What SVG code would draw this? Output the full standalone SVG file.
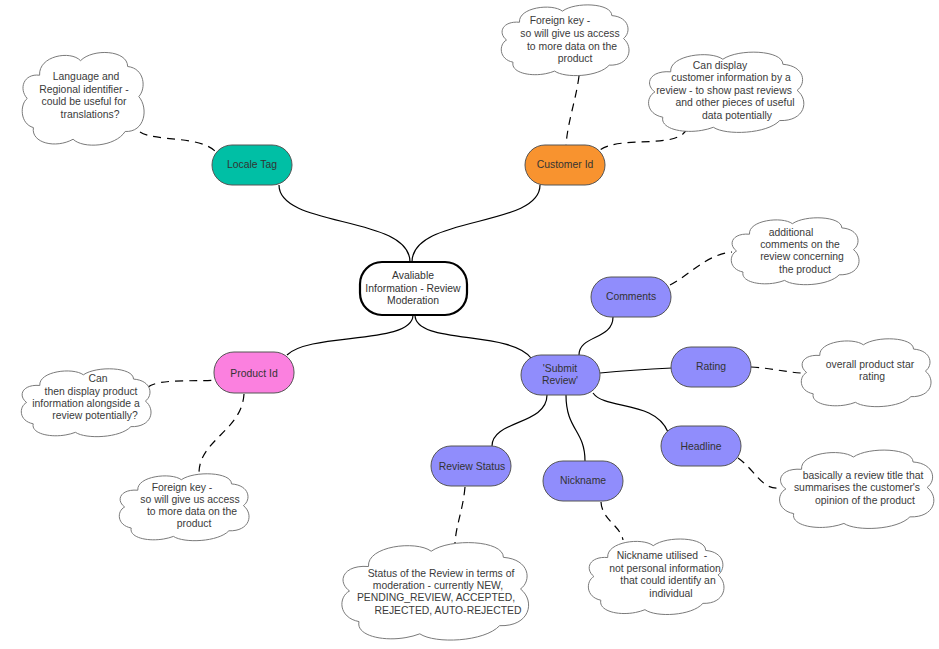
<svg xmlns="http://www.w3.org/2000/svg" xmlns:xlink="http://www.w3.org/1999/xlink" width="939" height="649" viewBox="0 0 939 649">
<style>
text{font-family:"Liberation Sans",Arial,sans-serif;font-size:10.4px;fill:#3a3a3a;text-anchor:middle}
.nt{fill:#333}
.pill{stroke:#555;stroke-width:1}
.cloud{fill:#fff;stroke:#7a7a7a;stroke-width:1}
.solid{fill:none;stroke:#000;stroke-width:1.2}
.dash{fill:none;stroke:#000;stroke-width:1.2;stroke-dasharray:8 6}
</style>
<defs>
<path id="cl" vector-effect="non-scaling-stroke" d="M 15 26 C 14 6 40 0 48 11 C 58 -2 86 0 86 17 C 100 19 101 40 95 48 C 103 60 100 85 84 84 C 76 100 50 102 42 92 C 28 102 8 96 10 80 C -1 76 -1 56 5 50 C -2 40 2 24 15 26 Z"/>
</defs>
<rect width="939" height="649" fill="#fff"/>
<g id="connectors">
<path class="solid" d="M 279 185 C 279 228 410 215 410 262"/>
<path class="solid" d="M 540 185 C 540 228 412 215 412 262"/>
<path class="solid" d="M 413 315 C 413 345 310 332 287 355"/>
<path class="solid" d="M 415 315 C 415 345 510 330 531 358"/>
<path class="solid" d="M 579 355 C 579 335 613 340 613 317"/>
<path class="solid" d="M 600 373 C 630 370 650 369 672 368"/>
<path class="solid" d="M 593 393 C 605 410 655 400 668 432"/>
<path class="solid" d="M 547 395 C 547 425 492 420 492 446"/>
<path class="solid" d="M 566 395 C 566 430 585 430 585 461"/>
<path class="dash" d="M 140 132 C 155 142 200 135 216 152"/>
<path class="dash" d="M 579 76 C 576 100 568 120 566 145"/>
<path class="dash" d="M 687 128 C 680 150 620 135 600 150"/>
<path class="dash" d="M 148 387 C 160 378 200 382 215 380"/>
<path class="dash" d="M 244 394 C 242 430 200 440 199 472"/>
<path class="dash" d="M 670 285 C 690 275 705 255 732 252"/>
<path class="dash" d="M 751 367 C 770 368 785 372 801 373"/>
<path class="dash" d="M 738 458 C 755 470 762 490 779 488"/>
<path class="dash" d="M 465 487 C 463 510 456 525 455 543"/>
<path class="dash" d="M 601 502 C 602 520 620 525 623 540"/>
</g>
<g id="center">
<rect x="360" y="262" width="107" height="53" rx="22" fill="#fff" stroke="#000" stroke-width="2.2"/>
<text class="nt" x="413" y="279">Avaliable</text>
<text class="nt" x="413" y="292">Information - Review</text>
<text class="nt" x="413" y="304">Moderation</text>
</g>
<g id="locale-tag">
<rect class="pill" x="212" y="145" width="80" height="40" rx="20" fill="#00bfa5"/>
<text class="nt" x="252" y="168">Locale Tag</text>
</g>
<g id="customer-id">
<rect class="pill" x="525" y="145" width="80" height="40" rx="20" fill="#f8932f"/>
<text class="nt" x="565" y="168">Customer Id</text>
</g>
<g id="product-id">
<rect class="pill" x="214" y="352" width="80" height="41" rx="20" fill="#fb80df"/>
<text class="nt" x="254" y="377">Product Id</text>
</g>
<g id="submit-review">
<rect class="pill" x="521" y="355" width="79" height="40" rx="20" fill="#908dfc"/>
<text class="nt" x="560" y="372">'Submit</text>
<text class="nt" x="560" y="384">Review'</text>
</g>
<g id="comments">
<rect class="pill" x="591" y="277" width="80" height="40" rx="20" fill="#908dfc"/>
<text class="nt" x="631" y="300">Comments</text>
</g>
<g id="rating">
<rect class="pill" x="671" y="347" width="80" height="40" rx="20" fill="#908dfc"/>
<text class="nt" x="711" y="370">Rating</text>
</g>
<g id="headline">
<rect class="pill" x="661" y="426" width="80" height="40" rx="20" fill="#908dfc"/>
<text class="nt" x="701" y="450">Headline</text>
</g>
<g id="review-status">
<rect class="pill" x="431" y="446" width="80" height="40" rx="20" fill="#908dfc"/>
<text class="nt" x="472" y="470">Review Status</text>
</g>
<g id="nickname">
<rect class="pill" x="543" y="461" width="80" height="40" rx="20" fill="#908dfc"/>
<text class="nt" x="583" y="484">Nickname</text>
</g>
<g id="note-locale">
<use href="#cl" xlink:href="#cl" class="cloud" transform="translate(21,50) scale(1.24,0.97)"/>
<text x="86" y="80">Language and</text>
<text x="84" y="93">Regional identifier -</text>
<text x="84" y="105">could be useful for</text>
<text x="90" y="118">translations?</text>
</g>
<g id="note-customer-fk">
<use href="#cl" xlink:href="#cl" class="cloud" transform="translate(500,3) scale(1.3,0.74)"/>
<text x="560" y="24">Foreign key -</text>
<text x="570" y="37">so will give us access</text>
<text x="572" y="50">to more data on the</text>
<text x="575" y="62">product</text>
</g>
<g id="note-customer-display">
<use href="#cl" xlink:href="#cl" class="cloud" transform="translate(647,50) scale(1.58,0.84)"/>
<text x="720" y="69">Can display</text>
<text x="731" y="81">customer information by a</text>
<text x="724" y="94">review - to show past reviews</text>
<text x="735" y="106">and other pieces of useful</text>
<text x="737" y="119">data potentially</text>
</g>
<g id="note-product-display">
<use href="#cl" xlink:href="#cl" class="cloud" transform="translate(20,367) scale(1.32,0.71)"/>
<text x="98" y="382">Can</text>
<text x="91" y="395">then display product</text>
<text x="86" y="407">information alongside a</text>
<text x="95" y="419">review potentially?</text>
</g>
<g id="note-product-fk">
<use href="#cl" xlink:href="#cl" class="cloud" transform="translate(118,472) scale(1.32,0.7)"/>
<text x="182" y="491">Foreign key -</text>
<text x="190" y="503">so will give us access</text>
<text x="192" y="515">to more data on the</text>
<text x="194" y="527">product</text>
</g>
<g id="note-comments">
<use href="#cl" xlink:href="#cl" class="cloud" transform="translate(730,216) scale(1.3,0.7)"/>
<text x="791" y="236">additional</text>
<text x="800" y="248">comments on the</text>
<text x="802" y="260">review concerning</text>
<text x="805" y="273">the product</text>
</g>
<g id="note-rating">
<use href="#cl" xlink:href="#cl" class="cloud" transform="translate(800,337) scale(1.32,0.71)"/>
<text x="870" y="368">overall product star</text>
<text x="872" y="380">rating</text>
</g>
<g id="note-headline">
<use href="#cl" xlink:href="#cl" class="cloud" transform="translate(778,448) scale(1.57,0.82)"/>
<text x="863" y="479">basically a review title that</text>
<text x="857" y="491">summarises the customer's</text>
<text x="865" y="504">opinion of the product</text>
</g>
<g id="note-review-status">
<use href="#cl" xlink:href="#cl" class="cloud" transform="translate(340,540) scale(1.9,1.02)"/>
<text x="441" y="577">Status of the Review in terms of</text>
<text x="438" y="589">moderation - currently NEW,</text>
<text x="436" y="601">PENDING_REVIEW, ACCEPTED,</text>
<text x="448" y="614">REJECTED, AUTO-REJECTED</text>
</g>
<g id="note-nickname">
<use href="#cl" xlink:href="#cl" class="cloud" transform="translate(587,537) scale(1.38,0.79)"/>
<text x="662" y="559" style="white-space:pre">Nickname utilised  -</text>
<text x="665" y="572">not personal information</text>
<text x="668" y="584">that could identify an</text>
<text x="671" y="597">individual</text>
</g>
</svg>
